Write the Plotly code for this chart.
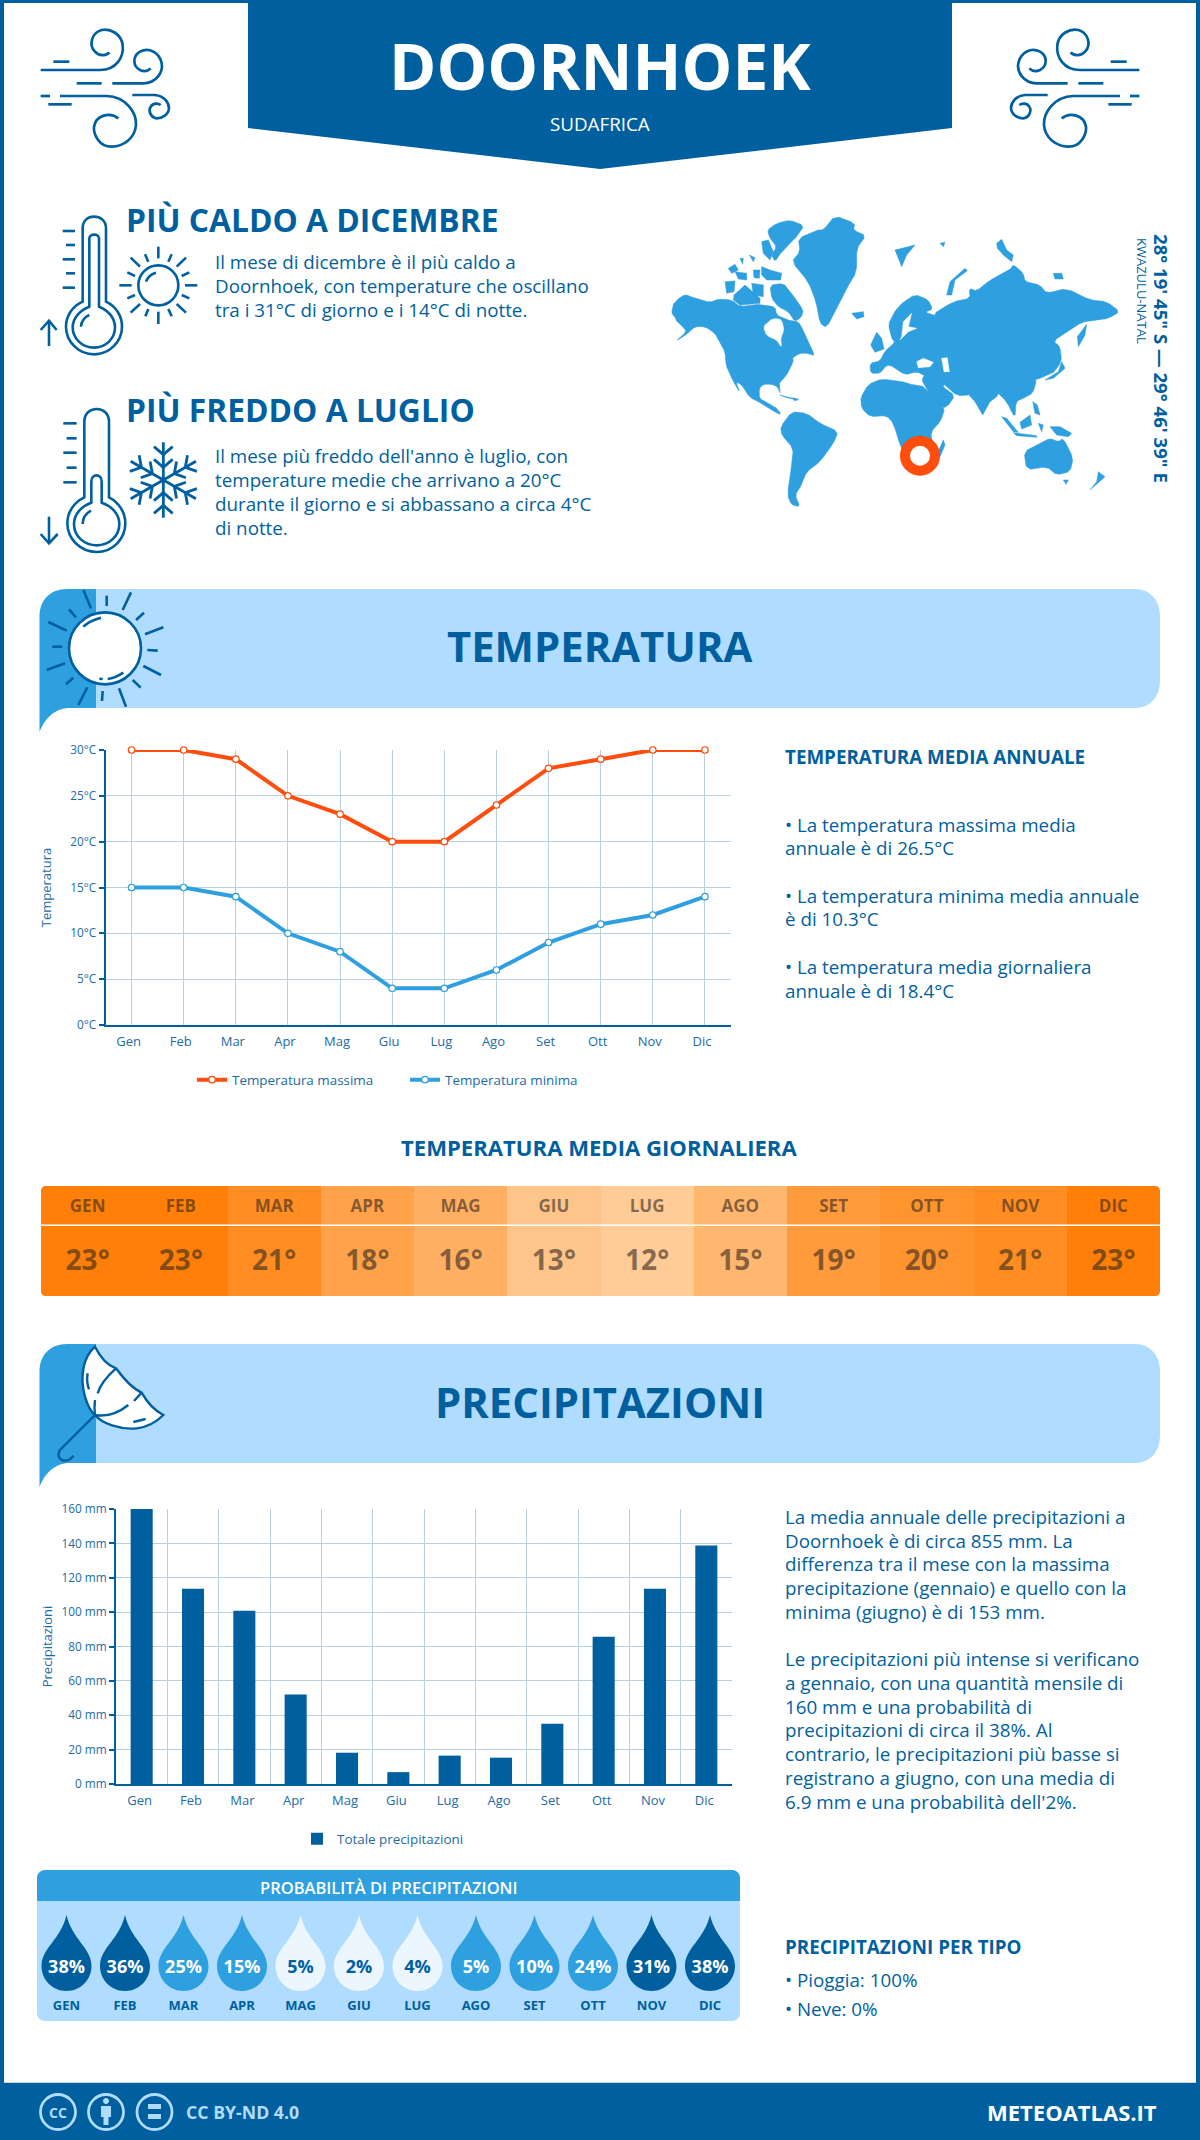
import re, math
import plotly.graph_objects as go

# ---------- data ----------
months = ["Gen","Feb","Mar","Apr","Mag","Giu","Lug","Ago","Set","Ott","Nov","Dic"]
months_upper = ["GEN","FEB","MAR","APR","MAG","GIU","LUG","AGO","SET","OTT","NOV","DIC"]
temp_max = [30,30,29,25,23,20,20,24,28,29,30,30]
temp_min = [15,15,14,10,8,4,4,6,9,11,12,14]
temp_daily = [23,23,21,18,16,13,12,15,19,20,21,23]
precip = [160,113.6,100.8,52,18.2,6.9,16.5,15.3,35.1,85.7,113.6,138.7]
rain_prob = [38,36,25,15,5,2,4,5,10,24,31,38]
drop_level = [2,2,1,1,0,0,0,1,1,1,2,2]

DARK = "#005F9E"; MID = "#2E9FDF"; LIGHT = "#B0DCFF"; PALE = "#EBF6FF"; ORANGE = "#FF4D0D"
FONT = "Open Sans"
W, H = 1200, 2140
BODY = 18.8

shapes = []
annots = []

def dom_x(a, b): return [a / W, b / W]
def dom_y(top, bot): return [1 - bot / H, 1 - top / H]

def tp(d, ox, oy, s=1/3, mx=None):
    idx = [0]
    def f(m):
        v = float(m.group()); i = idx[0]; idx[0] += 1
        if i % 2 == 0:
            x = ox + v * s
            if mx is not None: x = mx - x
            return f"{x:.2f}"
        return f"{oy + v * s:.2f}"
    return re.sub(r"\d+\.?\d*", f, d)

def fillp(path, color, layer="above"):
    shapes.append(dict(type="path", xref="x", yref="y", path=path, fillcolor=color, line=dict(width=0), layer=layer))

def strokep(path, color=DARK, w=2.6, fill=None):
    shapes.append(dict(type="path", xref="x", yref="y", path=path,
                       fillcolor=fill if fill else "rgba(0,0,0,0)", line=dict(color=color, width=w)))

def circle(cx, cy, rx, ry=None):
    ry = ry or rx
    k = 0.5523
    return (f"M {cx-rx},{cy} C {cx-rx},{cy-k*ry} {cx-k*rx},{cy-ry} {cx},{cy-ry} "
            f"C {cx+k*rx},{cy-ry} {cx+rx},{cy-k*ry} {cx+rx},{cy} "
            f"C {cx+rx},{cy+k*ry} {cx+k*rx},{cy+ry} {cx},{cy+ry} "
            f"C {cx-k*rx},{cy+ry} {cx-rx},{cy+k*ry} {cx-rx},{cy} Z")

def txt(x, y, s, size, color=DARK, bold=False, anchor="left", angle=0, weight=None, family=FONT):
    annots.append(dict(x=x, y=y, xref="x", yref="y", text=s, showarrow=False, xanchor=anchor, yanchor="middle",
                       textangle=angle, borderpad=0,
                       font=dict(family=family, size=size, color=color, weight=weight or (700 if bold else 400))))

# ---------- frame / header / footer ----------
fillp("M 0,0 L 4,0 L 4,2140 L 0,2140 Z", DARK)
fillp("M 1196,0 L 1200,0 L 1200,2140 L 1196,2140 Z", DARK)
fillp("M 0,0 L 1200,0 L 1200,3 L 0,3 Z", DARK)
fillp("M 248,0 L 952,0 L 952,128 L 600,169 L 248,128 Z", DARK)
fillp("M 0,2083 L 1200,2083 L 1200,2140 L 0,2140 Z", DARK)
fillp("M 4,2082 L 1196,2082 L 1196,2083 L 4,2083 Z", "#C9D9E6")
txt(600, 65, "DOORNHOEK", 64, "white", True, "center")
txt(600, 124, "SUDAFRICA", 18.8, "white", False, "center")

# wind icons
wind = ["M 100,155 L 148,155",
        "M 62,180 L 240,180 C 290,180 312,140 308,105 C 303,70 270,55 245,60 C 215,68 205,105 225,125 C 240,142 262,135 268,127",
        "M 170,220 L 245,220",
        "M 277,220 L 370,220 C 410,220 430,185 425,160 C 418,125 385,112 360,125 C 335,140 340,170 360,180 C 375,187 385,182 392,175",
        "M 62,258 L 90,258",
        "M 120,258 L 260,258 C 320,260 350,310 348,345 C 345,385 310,410 275,410 C 235,410 220,370 222,350 C 228,315 270,305 295,325",
        "M 85,283 L 155,283",
        "M 337,255 L 405,255 C 435,258 447,280 447,295 C 445,315 425,325 410,325 C 390,322 385,300 392,290 C 400,278 415,280 422,285"]
for d in wind:
    strokep(tp(d, 20, 10), w=2.7)
    strokep(tp(d, 20, 10, mx=1180), w=2.7)

# thermometer hot
for d in ["M 188,305 L 188,85 C 188,60 205,50 222,50 C 240,50 258,60 258,85 L 258,305 C 290,320 306,350 306,380 C 306,425 268,463 222,463 C 176,463 138,425 138,380 C 138,350 155,320 188,305 Z",
          "M 208,320 L 208,115 C 208,100 237,100 237,115 L 237,320 C 265,330 285,355 285,382 C 285,415 258,443 222,443 C 186,443 158,415 158,382 C 158,355 180,330 208,320 Z",
          "M 183,380 C 183,365 195,350 208,345",
          "M 128,93 L 165,93", "M 138,135 L 165,135", "M 128,178 L 165,178", "M 138,220 L 165,220", "M 128,263 L 165,263",
          "M 87,438 L 87,362", "M 62,390 L 87,362 L 110,390",
          circle(415, 256, 60), "M 378,245 C 382,232 395,222 408,218",
          "M 415,175 L 415,140", "M 335,256 L 298,256", "M 495,256 L 532,256", "M 415,335 L 415,372",
          "M 360,200 L 332,173", "M 470,200 L 498,173", "M 360,312 L 332,338", "M 470,312 L 498,338",
          "M 385,185 L 375,163", "M 445,185 L 455,163", "M 345,228 L 322,217", "M 485,228 L 508,217",
          "M 345,285 L 322,295", "M 485,285 L 508,295", "M 385,327 L 376,349", "M 445,327 L 455,349"]:
    strokep(tp(d, 20, 200), w=2.6)

# thermometer cold
for d in ["M 193,322 L 193,95 C 193,70 210,57 230,57 C 250,57 267,70 267,95 L 267,322 C 298,338 316,368 316,400 C 316,447 278,486 230,486 C 182,486 142,447 142,400 C 142,368 160,338 193,322 Z",
          "M 214,338 L 214,275 C 214,250 245,250 245,275 L 245,338 C 275,348 298,372 298,402 C 298,438 268,466 230,466 C 192,466 162,438 162,402 C 162,372 185,348 214,338 Z",
          "M 188,402 C 188,385 198,370 213,362",
          "M 130,100 L 170,100", "M 140,145 L 170,145", "M 130,188 L 170,188", "M 140,233 L 170,233", "M 130,277 L 170,277",
          "M 87,380 L 87,460", "M 62,432 L 87,460 L 113,432"]:
    strokep(tp(d, 20, 390), w=2.6)
cxf, cyf = 430, 270
for k in range(6):
    a = math.radians(90 + 60 * k)
    ux, uy = math.cos(a), math.sin(a)
    def pt(r, off):
        return (cxf + ux * r - uy * off, cyf + uy * r + ux * off)
    segs = [[pt(0, 0), pt(113, 0)],
            [pt(62, 28), pt(38, 0), pt(62, -28)],
            [pt(100, 28), pt(76, 0), pt(100, -28)]]
    for sg in segs:
        d = "M " + " L ".join(f"{x:.1f},{y:.1f}" for x, y in sg)
        strokep(tp(d, 20, 390), w=2.8)

# headings upper left
txt(125, 219, "PIÙ CALDO A DICEMBRE", 31.8, DARK, True)
for y, s in [(262, "Il mese di dicembre è il più caldo a"),
             (286, "Doornhoek, con temperature che oscillano"),
             (310, "tra i 31°C di giorno e i 14°C di notte.")]:
    txt(214, y, s, BODY)
txt(125, 409.5, "PIÙ FREDDO A LUGLIO", 31.8, DARK, True)
for y, s in [(456, "Il mese più freddo dell'anno è luglio, con"),
             (480, "temperature medie che arrivano a 20°C"),
             (504, "durante il giorno e si abbassano a circa 4°C"),
             (528, "di notte.")]:
    txt(214, y, s, BODY)

# ---------- world map (outline, decoration) ----------
land = [
 # North America
 [(38,300),(50,285),(75,268),(100,278),(150,292),(175,282),(215,285),(240,305),(290,298),(305,300),(345,305),(350,330),(380,345),(415,350),(428,372),(440,405),(465,452),(445,445),(420,445),(398,458),(400,470),(380,510),(362,530),(358,535),(362,568),(352,545),(335,538),(310,538),(298,550),(298,580),(320,592),(335,600),(345,605),(362,625),(358,628),(330,612),(300,592),(270,578),(245,540),(228,530),(240,565),(210,510),(198,480),(195,440),(180,415),(165,385),(135,365),(105,365),(85,385),(45,410),(80,380),(65,362),(50,350),(45,335),(35,325)],
 # Arctic Canada
 [(322,75),(350,55),(390,45),(432,62),(415,90),(385,120),(365,140),(345,170),(335,150),(350,125),(330,100)],
 [(305,110),(325,105),(340,140),(330,165),(310,145)],
 [(330,240),(370,235),(395,265),(430,315),(425,335),(405,350),(385,320),(355,305),(335,280)],
 [(195,230),(225,228),(222,260),(200,265)],
 [(222,270),(255,240),(300,280),(300,295),(240,300),(220,285)],
 [(275,235),(310,240),(310,275),(280,270)],
 [(205,190),(225,178),(235,195),(215,205)],
 [(225,200),(260,205),(260,225),(235,222)],
 [(280,195),(300,195),(298,220),(282,218)],
 [(305,185),(330,195),(365,205),(362,225),(320,225),(305,210)],
 [(268,150),(285,158),(280,170)],
 [(240,160),(250,160),(248,178)],
 # Greenland, Iceland
 [(415,100),(470,75),(490,75),(525,32),(585,55),(580,75),(618,92),(590,130),(590,200),(560,250),(530,310),(500,368),(480,355),(468,290),(445,230),(395,170),(420,140)],
 [(575,325),(610,320),(612,335),(590,342)],
 # South America
 [(362,665),(395,620),(440,625),(480,655),(535,680),(520,715),(480,770),(440,800),(425,840),(405,870),(420,905),(395,900),(382,870),(395,780),(400,730),(365,690)],
 # Africa, Madagascar
 [(602,578),(625,538),(665,522),(720,528),(760,540),(795,545),(830,605),(855,610),(842,648),(812,682),(818,720),(790,790),(745,780),(722,725),(700,655),(680,632),(630,635),(605,610)],
 [(850,705),(855,720),(840,755),(830,750)],
 # Europe
 [(632,505),(630,475),(660,468),(675,438),(705,412),(695,400),(685,358),(700,325),(725,295),(765,268),(805,285),(818,312),(795,322),(822,330),(860,340),(860,500),(800,515),(770,500),(735,510),(700,485),(680,480),(660,505)],
 # Russia / north Asia
 [(815,330),(880,290),(930,280),(928,250),(950,258),(990,225),(1050,195),(1060,178),(1090,205),(1095,230),(1140,240),(1160,265),(1220,250),(1290,285),(1340,290),(1380,320),(1345,340),(1310,345),(1265,352),(1225,378),(1180,408),(1200,425),(1205,470),(1175,510),(1000,560),(850,520),(815,470)],
 # China / SE Asia
 [(1000,500),(1175,500),(1140,490),(1112,495),(1130,525),(1118,565),(1090,580),(1068,590),(1065,640),(1040,590),(1010,560)],
 # India
 [(925,540),(1030,540),(1010,575),(990,590),(968,630),(945,590),(925,568)],
 # Middle East / Arabia
 [(785,525),(800,500),(960,510),(930,570),(890,572),(855,538),(848,545),(885,572),(862,605),(828,612),(795,540)],
 # Australia and islands
 [(1092,740),(1140,715),(1170,700),(1195,710),(1210,700),(1240,760),(1230,800),(1190,810),(1160,785),(1100,795)],
 [(1210,825),(1225,825),(1218,838)],
 [(1315,800),(1335,815),(1290,855),(1310,830)],
 [(632,420),(650,382),(665,400),(672,432),(645,442)],
 [(705,135),(765,120),(740,150),(725,185)],
 [(860,270),(870,230),(915,190),(922,197),(885,225),(875,270)],
 [(1010,115),(1025,103),(1040,135),(1060,150),(1055,170),(1030,150),(1012,130)],
 [(1180,205),(1205,205),(1210,222),(1185,222)],
 [(840,115),(855,112),(850,125)],
 [(1255,425),(1252,395),(1280,358),(1275,390)],
 [(1155,525),(1195,500),(1205,470),(1215,490),(1180,520)],
 [(1025,635),(1040,640),(1075,682),(1060,680)],
 [(1060,683),(1130,692),(1130,697),(1070,692)],
 [(1080,652),(1110,630),(1115,660),(1085,672)],
 [(1135,655),(1150,660),(1145,680)],
 [(1170,665),(1200,665),(1235,685),(1225,695),(1190,690)],
 [(1118,590),(1132,600),(1140,630),(1125,625)],
 [(360,570),(415,585),(380,578)],
 [(395,578),(415,582),(405,588)],
]
water = [
 [(310,365),(330,345),(348,340),(365,345),(372,375),(362,400),(365,428),(350,405),(320,392)],
 [(720,405),(745,380),(770,370),(745,365),(755,325),(730,350),(725,395)],
 [(770,470),(790,460),(820,472),(810,485),(775,488)],
 [(845,460),(862,458),(868,500),(852,500)],
]

def soften(p, t=0.2):
    # round off polygon corners so the coast outline is less angular
    if len(p) < 8:
        return p
    out = []
    for i in range(len(p)):
        (ax, ay), (bx, by) = p[i], p[(i + 1) % len(p)]
        out.append((ax + (bx - ax) * t, ay + (by - ay) * t))
        out.append((ax + (bx - ax) * (1 - t), ay + (by - ay) * (1 - t)))
    return out

strokep(circle(920, 455.7, 15), ORANGE, 10, fill="white")
txt(1162, 358, "28° 19' 45\" S — 29° 46' 39\" E", 18.6, DARK, True, "center", 90)
txt(1142, 291, "KWAZULU-NATAL", 13, DARK, False, "center", 90)

# ---------- section bands ----------
def band(top, bot):
    fillp(f"M 90,{top} L 1135,{top} C 1150,{top} 1160,{top+11} 1160,{top+28} L 1160,{bot-28} C 1160,{bot-11} 1150,{bot} 1135,{bot} L 90,{bot} Z", LIGHT)
    fillp(f"M 39.5,{bot+24} L 39.5,{top+28} C 39.5,{top+11} 50,{top} 67,{top} L 96,{top} L 96,{bot} L 70,{bot} C 55,{bot} 45,{bot+10} 39.5,{bot+24} Z", MID)
band(589, 708)
band(1344, 1463)
txt(599, 645.5, "TEMPERATURA", 41.8, DARK, True, "center")
txt(600, 1401.5, "PRECIPITAZIONI", 41.8, DARK, True, "center")

# sun
strokep(tp(circle(225, 205, 108), 30, 580), fill="white", w=2.6)
for d in ["M 160,140 C 175,125 195,118 213,113", "M 233,297 C 250,295 265,288 280,278", "M 208,296 L 218,297",
          "M 160,30 L 183,85", "M 230,47 L 230,78", "M 303,37 L 278,90", "M 342,98 L 318,120", "M 400,142 L 345,163",
          "M 352,210 L 383,212", "M 340,258 L 393,285", "M 308,300 L 332,323", "M 267,325 L 288,380", "M 218,333 L 216,363",
          "M 172,322 L 145,375", "M 130,293 L 108,313", "M 105,250 L 50,270", "M 67,200 L 97,200", "M 110,152 L 55,126", "M 138,112 L 117,88"]:
    strokep(tp(d, 30, 580), w=2.6)

# umbrella
strokep(tp("M 195,20 C 160,50 148,110 165,170 C 172,195 182,215 195,225 C 215,250 270,270 320,265 C 350,262 380,245 400,225 C 370,210 350,185 335,158 C 305,145 280,115 258,85 C 230,75 210,50 195,20 Z", 30, 1340), fill="white", w=2.4)
for d in ["M 258,85 C 230,110 210,135 203,160", "M 195,180 C 193,195 193,210 195,225", "M 195,225 C 235,232 270,215 295,195",
          "M 312,183 L 335,158", "M 173,100 C 170,115 172,135 177,148", "M 310,246 L 347,237",
          "M 195,225 L 90,330 C 80,345 88,362 105,362 C 115,362 125,355 130,347"]:
    strokep(tp(d, 30, 1340), w=2.4)

# ---------- right text columns ----------
txt(784, 757, "TEMPERATURA MEDIA ANNUALE", 18.8, DARK, True)
for y, s in [(825, "• La temperatura massima media"), (848, "annuale è di 26.5°C"),
             (896, "• La temperatura minima media annuale"), (919, "è di 10.3°C"),
             (967, "• La temperatura media giornaliera"), (991, "annuale è di 18.4°C")]:
    txt(784, y, s, BODY)
txt(598.5, 1147, "TEMPERATURA MEDIA GIORNALIERA", 22.1, DARK, True, "center")
for y, s in [(1517, "La media annuale delle precipitazioni a"), (1541, "Doornhoek è di circa 855 mm. La"),
             (1564, "differenza tra il mese con la massima"), (1588, "precipitazione (gennaio) e quello con la"),
             (1612, "minima (giugno) è di 153 mm."),
             (1659, "Le precipitazioni più intense si verificano"), (1683, "a gennaio, con una quantità mensile di"),
             (1707, "160 mm e una probabilità di"), (1730, "precipitazioni di circa il 38%. Al"),
             (1754, "contrario, le precipitazioni più basse si"), (1778, "registrano a giugno, con una media di"),
             (1802, "6.9 mm e una probabilità dell'2%.")]:
    txt(784, y, s, BODY)
txt(784, 1947, "PRECIPITAZIONI PER TIPO", 18.8, DARK, True)
txt(784, 1980, "• Pioggia: 100%", BODY)
txt(784, 2009, "• Neve: 0%", BODY)

# ---------- rain probability panel ----------
fillp("M 37,1901 L 740,1901 L 740,2013 C 740,2018 736,2021 732,2021 L 45,2021 C 41,2021 37,2018 37,2013 Z", LIGHT, "below")
fillp("M 37,1901 L 37,1878 C 37,1873 41,1870 45,1870 L 732,1870 C 736,1870 740,1873 740,1878 L 740,1901 Z", MID, "below")
txt(389, 1887, "PROBABILITÀ DI PRECIPITAZIONI", 16.5, "white", True, "center", weight=600)
drop_cols = [PALE, MID, DARK]
for i, lv in enumerate(drop_level):
    cx = 37.25 + 58.5 * (i + 0.5)
    fillp(f"M {cx},1915 C {cx+6},1940 {cx+25},1948 {cx+25},1966 C {cx+25},1980 {cx+14},1991 {cx},1991 "
          f"C {cx-14},1991 {cx-25},1980 {cx-25},1966 C {cx-25},1948 {cx-6},1940 {cx},1915 Z", drop_cols[lv], "below")

# ---------- footer icons ----------
for cx in (58, 106, 154.5):
    strokep(circle(cx, 2112, 17.5), LIGHT, 2.8)
txt(58, 2112, "CC", 14, LIGHT, True, "center")
fillp(circle(106, 2101, 3), LIGHT)
fillp("M 101,2106 L 111,2106 L 111,2117 L 108.5,2117 L 108.5,2125 L 103.5,2125 L 103.5,2117 L 101,2117 Z", LIGHT)
fillp("M 148,2104 L 161,2104 L 161,2109 L 148,2109 Z", LIGHT)
fillp("M 148,2114 L 161,2114 L 161,2119 L 148,2119 Z", LIGHT)
txt(185, 2112, "CC BY-ND 4.0", 17.7, LIGHT, True)
txt(1158, 2112, "METEOATLAS.IT", 22, "white", True, "right")

# heat-table corner masks and divider
for d in ["M 41,1186 L 46,1186 C 43,1186 41,1188 41,1191 Z", "M 1160,1186 L 1155,1186 C 1158,1186 1160,1188 1160,1191 Z",
          "M 41,1296 L 46,1296 C 43,1296 41,1294 41,1291 Z", "M 1160,1296 L 1155,1296 C 1158,1296 1160,1294 1160,1291 Z"]:
    fillp(d, "white")
fillp("M 41,1224.5 L 1160,1224.5 L 1160,1226 L 41,1226 Z", "white")

# ---------- figure ----------
fig = go.Figure()
TICK = "#1C6BA6"; GRID = "#B9D0E3"

# overlay pixel canvas (x/y): world map, one closed area per polygon
def add_poly(p, col):
    p = soften(p)
    xs = [660 + a / 3 for a, b in p] + [660 + p[0][0] / 3]
    ys = [205 + b / 3 for a, b in p] + [205 + p[0][1] / 3]
    fig.add_trace(go.Scatter(x=xs, y=ys, mode="lines", fill="toself", fillcolor=col, line=dict(width=0.5, color=col),
                             showlegend=False, hoverinfo="skip"))
for p in land:
    add_poly(p, MID)
for p in water:
    add_poly(p, "white")

# temperature lines (x2/y2)
for name, vals, col in [("Temperatura massima", temp_max, ORANGE), ("Temperatura minima", temp_min, MID)]:
    fig.add_trace(go.Scatter(x=months, y=vals, name=name, mode="lines+markers", xaxis="x2", yaxis="y2",
                             line=dict(color=col, width=4), cliponaxis=False, hoverinfo="skip",
                             marker=dict(size=6.5, color="white", line=dict(color=col, width=1.2)), legend="legend"))

# precipitation bars (x3/y3)
fig.add_trace(go.Bar(x=months, y=precip, name="Totale precipitazioni", xaxis="x3", yaxis="y3",
                     marker=dict(color=DARK, line=dict(width=0)), hoverinfo="skip", legend="legend2"))

# daily table (x4/y4)
fig.add_trace(go.Heatmap(x=months_upper, y=[0, 39, 110], z=[temp_daily, temp_daily], xaxis="x4", yaxis="y4",
                         colorscale=[[0, "#FFCB96"], [1, "#FF7F08"]], showscale=False, hoverinfo="skip"))
TBL = "rgba(50,40,30,0.6)"
fig.add_trace(go.Scatter(x=months_upper, y=[21.5] * 12, text=months_upper, mode="text", xaxis="x4", yaxis="y4",
                         textfont=dict(family=FONT, size=17, color=TBL, weight=700), showlegend=False, hoverinfo="skip"))
fig.add_trace(go.Scatter(x=months_upper, y=[76.5] * 12, text=[f"{v}°" for v in temp_daily], mode="text", xaxis="x4", yaxis="y4",
                         textfont=dict(family=FONT, size=28, color=TBL, weight=700), showlegend=False, hoverinfo="skip"))

# rain probability text (x5/y5)
fig.add_trace(go.Scatter(x=months_upper, y=[67.5] * 12, text=[f"{v}%" for v in rain_prob], mode="text", xaxis="x5", yaxis="y5",
                         textfont=dict(family=FONT, size=18, weight=700, color=["white" if l else DARK for l in drop_level]),
                         showlegend=False, hoverinfo="skip"))
fig.add_trace(go.Scatter(x=months_upper, y=[105.5] * 12, text=months_upper, mode="text", xaxis="x5", yaxis="y5",
                         textfont=dict(family=FONT, size=13, weight=700, color=DARK), showlegend=False, hoverinfo="skip"))

hidden = dict(visible=False, fixedrange=True)
tfx = dict(family=FONT, size=13, color=TICK)
tfy = dict(family=FONT, size=11.8, color=TICK)
layout = dict(
    width=W, height=H, autosize=False, margin=dict(l=0, r=0, t=0, b=0, autoexpand=False),
    paper_bgcolor="white", plot_bgcolor="rgba(0,0,0,0)", font=dict(family=FONT, color=TICK),
    bargap=0.57, hovermode=False, shapes=shapes, annotations=annots,
    xaxis=dict(hidden, domain=[0, 1], range=[0, W], anchor="y"),
    yaxis=dict(hidden, domain=[0, 1], range=[H, 0], anchor="x"),
    xaxis2=dict(domain=dom_x(105.5, 731), range=[-0.5, 11.5], anchor="y2", type="category", fixedrange=True,
                showgrid=True, gridcolor=GRID, gridwidth=1, showline=True, linecolor=DARK, linewidth=2,
                ticks="", tickfont=tfx, zeroline=False, ticklabelshift=-3, ticklabelstandoff=3),
    yaxis2=dict(domain=dom_y(750, 1025), range=[0, 30], dtick=5, ticksuffix="°C", anchor="x2", fixedrange=True,
                showgrid=True, gridcolor=GRID, gridwidth=1.3, showline=True, linecolor=DARK, linewidth=2,
                ticks="outside", ticklen=5, tickcolor=DARK, tickwidth=2, tickfont=tfy, zeroline=False,
                title=dict(text="Temperatura", font=dict(family=FONT, size=13, color=TICK), standoff=16)),
    xaxis3=dict(domain=dom_x(116, 732), range=[-0.5, 11.5], anchor="y3", type="category", fixedrange=True,
                tickson="boundaries", showgrid=True, gridcolor=GRID, gridwidth=1, showline=True, linecolor=DARK, linewidth=2,
                ticks="", tickfont=tfx, zeroline=False, ticklabelshift=-2, ticklabelstandoff=3),
    yaxis3=dict(domain=dom_y(1509, 1784), range=[0, 160], dtick=20, ticksuffix=" mm", anchor="x3", fixedrange=True,
                showgrid=True, gridcolor=GRID, gridwidth=1.3, showline=True, linecolor=DARK, linewidth=2,
                ticks="outside", ticklen=5, tickcolor=DARK, tickwidth=2, tickfont=tfy, zeroline=False,
                title=dict(text="Precipitazioni", font=dict(family=FONT, size=13, color=TICK), standoff=6)),
    xaxis4=dict(hidden, domain=dom_x(41, 1160), range=[-0.5, 11.5], anchor="y4", type="category"),
    yaxis4=dict(hidden, domain=dom_y(1186, 1296), range=[110, 0], anchor="x4"),
    xaxis5=dict(hidden, domain=dom_x(37.25, 739.25), range=[-0.5, 11.5], anchor="y5", type="category"),
    yaxis5=dict(hidden, domain=dom_y(1901, 2021), range=[120, 0], anchor="x5"),
    legend=dict(orientation="h", x=192 / W, xanchor="left", y=1 - 1080 / H, yanchor="middle", itemwidth=30,
                entrywidth=168, entrywidthmode="pixels",
                font=dict(family=FONT, size=13.4, color=TICK), bgcolor="rgba(0,0,0,0)", traceorder="normal"),
    legend2=dict(orientation="h", x=383 / W, xanchor="center", y=1 - 1839 / H, yanchor="middle", itemwidth=30,
                 font=dict(family=FONT, size=13.4, color=TICK), bgcolor="rgba(0,0,0,0)"),
    showlegend=True,
)
fig.update_layout(**layout)
fig.write_html("out.html", config={"displayModeBar": False, "responsive": False},
               post_script="document.body.style.margin='0';document.documentElement.style.overflow='hidden';")
